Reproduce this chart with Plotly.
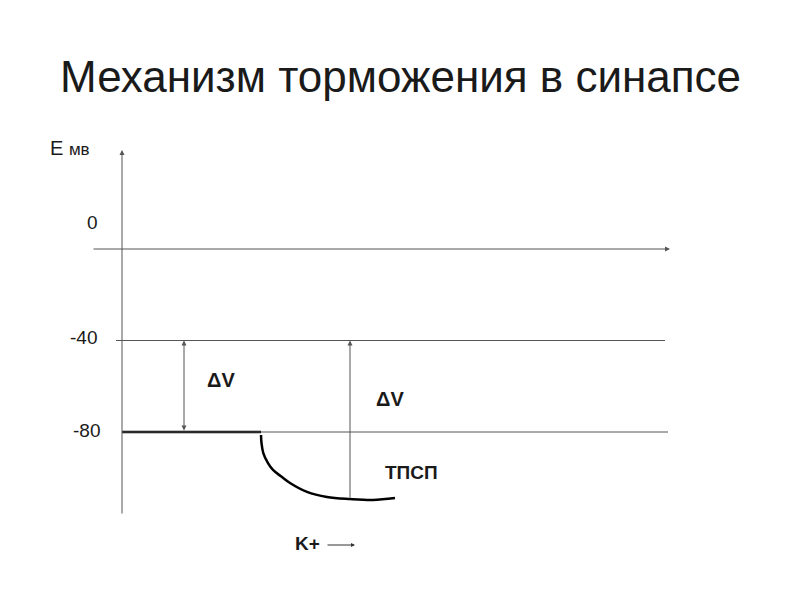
import plotly.graph_objects as go

title = "Механизм торможения в синапсе"
level_values = [0, -40, -80]
level_labels = ["0", "-40", "-80"]

# resting potential (thick line) and IPSP (hyperpolarisation) curve, mV
rest_x = [122, 261]
rest_y = [-80, -80]
ipsp_x = [261, 261.5, 263.3, 268, 273, 282, 290, 307, 327, 350, 373, 395]
ipsp_y = [-81.3, -84.8, -89.2, -93.6, -96.6, -99.7, -102.3, -106.2, -108.4, -109.3, -109.7, -108.9]

# y mapping: 0 mV at pixel 249, -80 mV at pixel 432
PX_PER_MV = (432 - 249) / 80.0
def mv(py):
    return (249 - py) / PX_PER_MV

OFF = 8  # page body margin

fig = go.Figure()
line_col = "#555555"

fig.add_trace(go.Scatter(x=rest_x, y=rest_y, mode="lines",
                         line=dict(color="black", width=2.5), hoverinfo="skip"))
fig.add_trace(go.Scatter(x=ipsp_x, y=ipsp_y, mode="lines", line_shape="spline",
                         line=dict(color="black", width=2.5), hoverinfo="skip"))

# horizontal level lines
fig.add_shape(type="line", x0=116, x1=665, y0=level_values[1], y1=level_values[1],
              line=dict(color=line_col, width=1))
fig.add_shape(type="line", x0=122, x1=668, y0=level_values[2], y1=level_values[2],
              line=dict(color=line_col, width=1))

ann = []
# 0 axis with arrow
ann.append(dict(x=670, y=level_values[0], ax=92, ay=level_values[0], xref="x", yref="y",
                axref="x", ayref="y", showarrow=True, arrowhead=2, arrowsize=1,
                arrowwidth=1, arrowcolor=line_col, text=""))
# vertical axis with arrow
ann.append(dict(x=122, y=mv(150), ax=122, ay=mv(515), xref="x", yref="y",
                axref="x", ayref="y", showarrow=True, arrowhead=2, arrowsize=1,
                arrowwidth=1, arrowcolor=line_col, text=""))
# ΔV double arrow
ann.append(dict(x=184, y=level_values[1], ax=184, ay=level_values[2], xref="x", yref="y",
                axref="x", ayref="y", showarrow=True, arrowhead=2, startarrowhead=2,
                arrowside="end+start", arrowsize=1, arrowwidth=1, arrowcolor=line_col, text=""))
# second ΔV arrow
ann.append(dict(x=350, y=level_values[1], ax=350, ay=-109.3, xref="x", yref="y",
                axref="x", ayref="y", showarrow=True, arrowhead=2, arrowsize=1,
                arrowwidth=1, arrowcolor=line_col, text=""))
# K+ arrow
ann.append(dict(x=355, y=mv(545), ax=326, ay=mv(545), xref="x", yref="y",
                axref="x", ayref="y", showarrow=True, arrowhead=2, arrowsize=0.8,
                arrowwidth=1, arrowcolor="#333333", text=""))

font = "Liberation Sans, Arial, sans-serif"
def txt(x, py, s, size, bold=False, anchor="center"):
    return dict(x=x, y=mv(py), xref="x", yref="y", text=("<b>%s</b>" % s) if bold else s,
                showarrow=False, xanchor=anchor, yanchor="middle",
                font=dict(family=font, size=size, color="#1a1a1a"))

ann.append(txt(400, 76, title, 44))
ann.append(dict(x=48, y=mv(148), xref="x", yref="y", showarrow=False, xanchor="left",
                yanchor="middle", text="E <span style='font-size:17px'>мв</span>",
                font=dict(family=font, size=20, color="#1a1a1a")))
ann.append(txt(92, 222, level_labels[0], 19))
ann.append(txt(83, 337, level_labels[1], 19))
ann.append(txt(86, 430, level_labels[2], 19))
ann.append(txt(221, 380, "ΔV", 20, True))
ann.append(txt(390, 399, "ΔV", 20, True))
ann.append(txt(411, 472, "ТПСП", 19, True))
ann.append(txt(307, 543, "K+", 19, True))

fig.update_layout(
    width=800, height=600, margin=dict(l=0, r=0, t=0, b=0),
    paper_bgcolor="white", plot_bgcolor="white", showlegend=False,
    xaxis=dict(range=[OFF, 800 + OFF], visible=False, fixedrange=True),
    yaxis=dict(range=[mv(600 + OFF), mv(OFF)], visible=False, fixedrange=True),
    annotations=ann,
)
fig.write_html("out.html")
